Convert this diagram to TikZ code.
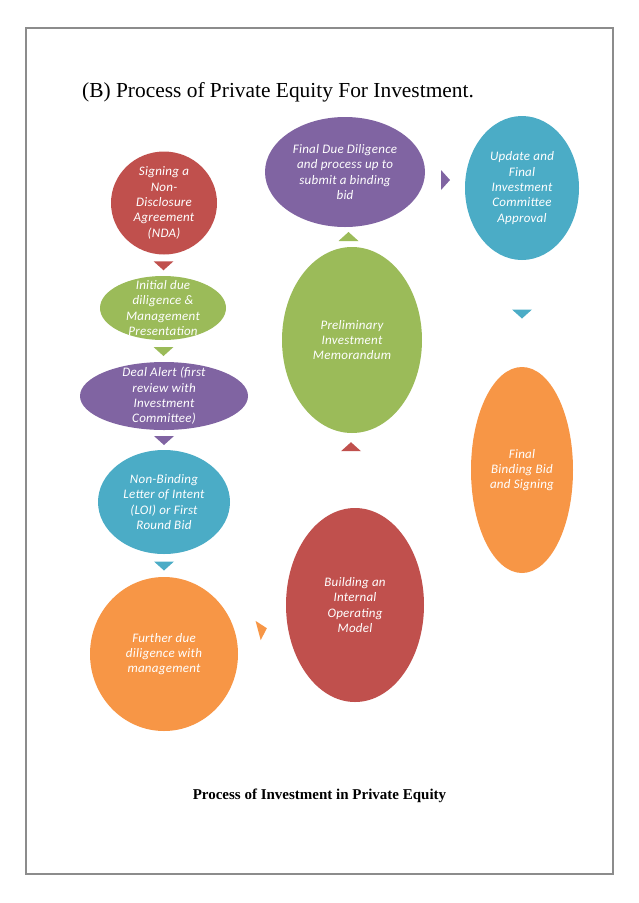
\documentclass[tikz,border=0pt]{standalone}
\usepackage{fontspec}
\setmainfont{Liberation Serif}
\newfontfamily\shapefont[LetterSpace=2]{Carlito}
\usetikzlibrary{shapes.geometric,calc}
\definecolor{cred}{HTML}{C0504D}
\definecolor{cgreen}{HTML}{9BBB59}
\definecolor{cpurple}{HTML}{8064A2}
\definecolor{cteal}{HTML}{4BACC6}
\definecolor{corange}{HTML}{F79646}
\definecolor{framegray}{HTML}{8C8C8C}
\begin{document}
\begin{tikzpicture}[x=1pt,y=1pt,
  bubble/.style={ellipse, inner sep=0pt, draw=none},
  bubtext/.style={inner sep=0pt, text=white, align=center,
    font=\shapefont\itshape\fontsize{13}{15.3}\selectfont},
  tri/.pic={\path[pic actions] (-10,4) -- (10,4) -- (0,-5) -- cycle;}]
\useasboundingbox (0,0) rectangle (638,-903);
\draw[framegray, line width=1.6pt] (26,-28) rectangle (613,-874);
\node[anchor=base west, inner sep=0pt, font=\fontsize{21.4}{25}\selectfont] (title) at (82,-97) {(B) Process of Private Equity For Investment.};
\node[inner sep=0pt, font=\bfseries\fontsize{15}{18}\selectfont] (caption) at (319.5,-796) {Process of Investment in Private Equity};

% left column
\node[bubble, fill=cred, minimum width=106pt, minimum height=103pt] (nda) at (164,-203) {};
\node[bubtext] (nda-t) at (nda.center) {Signing a\\Non-\\Disclosure\\Agreement\\(NDA)};
\node[bubble, fill=cgreen, minimum width=126pt, minimum height=64pt] (idd) at (163,-308) {};
\node[bubtext] (idd-t) at (idd.center) {Initial due\\diligence \&\\Management\\Presentation};
\node[bubble, fill=cpurple, minimum width=168pt, minimum height=68pt] (deal) at (164,-396) {};
\node[bubtext] (deal-t) at (deal.center) {Deal Alert (first\\review with\\Investment\\Committee)};
\node[bubble, fill=cteal, minimum width=132pt, minimum height=104pt] (loi) at (164,-502) {};
\node[bubtext] (loi-t) at (loi.center) {Non-Binding\\Letter of Intent\\(LOI) or First\\Round Bid};
\node[bubble, fill=corange, minimum width=148pt, minimum height=154pt] (fdm) at (164,-654) {};
\node[bubtext] (fdm-t) at (fdm.center) {Further due\\diligence with\\management};

% middle column
\node[bubble, fill=cred, minimum width=138pt, minimum height=194pt] (bim) at (355,-605) {};
\node[bubtext] (bim-t) at (bim.center) {Building an\\Internal\\Operating\\Model};
\node[bubble, fill=cgreen, minimum width=140pt, minimum height=186pt] (pim) at (352,-340) {};
\node[bubtext] (pim-t) at (pim.center) {Preliminary\\Investment\\Memorandum};
\node[bubble, fill=cpurple, minimum width=160pt, minimum height=110pt] (fdd) at (345,-172) {};
\node[bubtext] (fdd-t) at (fdd.center) {Final Due Diligence\\and process up to\\submit a binding\\bid};

% right column
\node[bubble, fill=cteal, minimum width=114pt, minimum height=144pt] (upd) at (522,-188) {};
\node[bubtext] (upd-t) at (upd.center) {Update and\\Final\\Investment\\Committee\\Approval};
\node[bubble, fill=corange, minimum width=102pt, minimum height=206pt] (fbb) at (522,-470) {};
\node[bubtext] (fbb-t) at (fbb.center) {Final\\Binding Bid\\and Signing};

% triangle markers between steps
\pic[fill=cred] at ($(nda.south)!0.5!(idd.north)$) {tri};
\pic[fill=cgreen] at ($(idd.south)!0.5!(deal.north)$) {tri};
\pic[fill=cpurple] at ($(deal.south)!0.5!(loi.north)$) {tri};
\pic[fill=cteal] at ($(loi.south)!0.5!(fdm.north)$) {tri};
\pic[fill=corange, rotate=105] at ($(fdm.east)!0.5!(bim.west)$) {tri};
\pic[fill=cred, rotate=180] at ($(pim.south)+(-1,-14)$) {tri};
\pic[fill=cgreen, rotate=180] at ($(pim.north)!0.5!(fdd.south)$) {tri};
\pic[fill=cpurple, rotate=90] at ($(fdd.east)!0.5!(upd.west)$) {tri};
\pic[fill=cteal] at ($(upd.south)!0.5!(fbb.north)$) {tri};
\end{tikzpicture}
\end{document}
